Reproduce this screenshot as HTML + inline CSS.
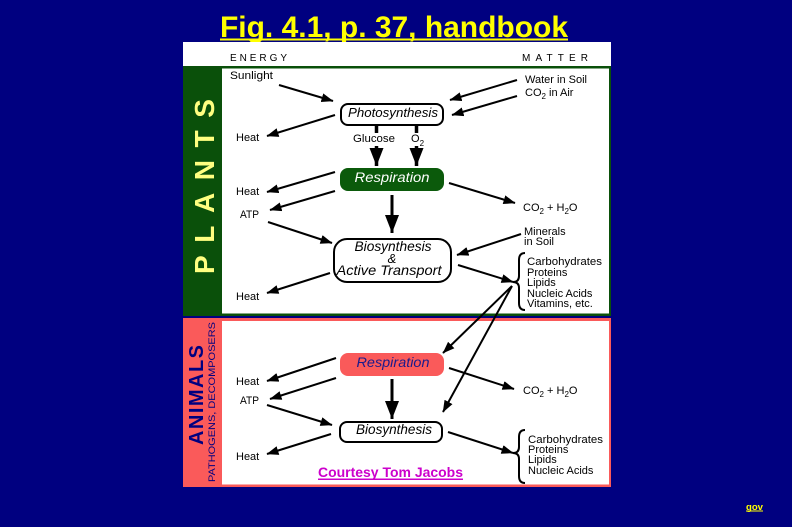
<!DOCTYPE html>
<html><head><meta charset="utf-8">
<style>
html,body{margin:0;padding:0;background:#000080;}
svg{display:block;}
text{font-family:"Liberation Sans",Arial,sans-serif;}
</style></head>
<body>
<svg width="792" height="527" viewBox="0 0 792 527" xmlns="http://www.w3.org/2000/svg">
<defs>
<marker id="ah" markerUnits="userSpaceOnUse" markerWidth="14" markerHeight="12" refX="11.5" refY="4.5" orient="auto">
<path d="M0,0 L12,4.5 L0,9 Z" fill="#000"/>
</marker>
<marker id="big" markerUnits="userSpaceOnUse" markerWidth="20" markerHeight="16" refX="18" refY="7" orient="auto">
<path d="M0,0 L18,7 L0,14 Z" fill="#000"/>
</marker>
</defs>
<rect width="792" height="527" fill="#000080"/>

<!-- Title -->
<text x="394" y="37" text-anchor="middle" font-size="30" font-weight="bold" fill="#ffff00" textLength="348" lengthAdjust="spacingAndGlyphs">Fig. 4.1, p. 37, handbook</text>
<rect x="220" y="38.5" width="348" height="2" fill="#ffff00"/>

<!-- header -->
<rect x="183" y="42" width="428" height="25" fill="#fff"/>
<text x="230" y="61" font-size="10" textLength="57" lengthAdjust="spacing">ENERGY</text>
<text x="522" y="61" font-size="10" textLength="66" lengthAdjust="spacing">MATTER</text>

<!-- Plants panel -->
<rect x="183" y="66" width="428" height="250" fill="#0a500a"/>
<rect x="222" y="68.5" width="387" height="245" fill="#fff"/>
<text transform="translate(214,274) rotate(-90)" x="0" y="0" font-size="28" font-weight="bold" fill="#ffff80" textLength="175" lengthAdjust="spacing">PLANTS</text>

<!-- Animals panel -->
<rect x="183" y="318" width="428" height="169" fill="#fa5a5a"/>
<rect x="222" y="321" width="387" height="163.5" fill="#fff"/>
<text transform="translate(203,445) rotate(-90)" x="0" y="0" font-size="20" font-weight="bold" fill="#000080" textLength="100" lengthAdjust="spacing">ANIMALS</text>
<text transform="translate(215,482) rotate(-90)" x="0" y="0" font-size="9.5" fill="#000080" textLength="160" lengthAdjust="spacingAndGlyphs">PATHOGENS, DECOMPOSERS</text>

<!-- Plants labels -->
<g font-size="11" fill="#000">
<text x="230" y="79" textLength="43" lengthAdjust="spacingAndGlyphs">Sunlight</text>
<text x="525" y="83" textLength="62" lengthAdjust="spacingAndGlyphs">Water in Soil</text>
<text x="525" y="96">CO<tspan font-size="8" dy="3">2</tspan><tspan dy="-3"> in Air</tspan></text>
<text x="236" y="141">Heat</text>
<text x="353" y="142" textLength="42" lengthAdjust="spacingAndGlyphs">Glucose</text>
<text x="411" y="142">O<tspan font-size="8" dy="4">2</tspan></text>
<text x="236" y="195">Heat</text>
<text x="240" y="218" textLength="19" lengthAdjust="spacingAndGlyphs">ATP</text>
<text x="523" y="211">CO<tspan font-size="8" dy="3">2</tspan><tspan dy="-3"> + H</tspan><tspan font-size="8" dy="3">2</tspan><tspan dy="-3">O</tspan></text>
<text x="524" y="235">Minerals</text>
<text x="524" y="245">in Soil</text>
<text x="236" y="300">Heat</text>
<text x="527" y="265" textLength="75" lengthAdjust="spacingAndGlyphs">Carbohydrates</text>
<text x="527" y="276">Proteins</text>
<text x="527" y="286">Lipids</text>
<text x="527" y="297">Nucleic Acids</text>
<text x="527" y="307">Vitamins, etc.</text>
</g>

<!-- Plants boxes -->
<rect x="341" y="104" width="102" height="21" rx="7" fill="#fff" stroke="#000" stroke-width="2"/>
<text x="393" y="117" text-anchor="middle" font-size="13" font-style="italic" textLength="90" lengthAdjust="spacingAndGlyphs">Photosynthesis</text>

<rect x="340" y="168" width="104" height="23" rx="8" fill="#0b5a0b"/>
<text x="392" y="182" text-anchor="middle" font-size="14" font-style="italic" fill="#fff" textLength="75" lengthAdjust="spacingAndGlyphs">Respiration</text>

<rect x="334" y="239" width="117" height="43" rx="13" fill="#fff" stroke="#000" stroke-width="2"/>
<text x="393" y="251" text-anchor="middle" font-size="13.5" font-style="italic" textLength="77" lengthAdjust="spacingAndGlyphs">Biosynthesis</text>
<text x="392" y="263" text-anchor="middle" font-size="13" font-style="italic">&amp;</text>
<text x="389" y="275" text-anchor="middle" font-size="14" font-style="italic" textLength="105" lengthAdjust="spacingAndGlyphs">Active Transport</text>

<!-- Plants arrows -->
<g stroke="#000" stroke-width="2" fill="none">
<line x1="279" y1="85" x2="333" y2="101" marker-end="url(#ah)"/>
<line x1="517" y1="80" x2="450" y2="100" marker-end="url(#ah)"/>
<line x1="517" y1="96" x2="452" y2="115" marker-end="url(#ah)"/>
<line x1="335" y1="115" x2="267" y2="136" marker-end="url(#ah)"/>
<line x1="335" y1="172" x2="267" y2="192" marker-end="url(#ah)"/>
<line x1="335" y1="191" x2="270" y2="210" marker-end="url(#ah)"/>
<line x1="449" y1="183" x2="515" y2="203" marker-end="url(#ah)"/>
<line x1="268" y1="222" x2="332" y2="243" marker-end="url(#ah)"/>
<line x1="521" y1="234" x2="457" y2="255" marker-end="url(#ah)"/>
<line x1="458" y1="265" x2="513" y2="282" marker-end="url(#ah)"/>
<line x1="330" y1="273" x2="267" y2="293" marker-end="url(#ah)"/>
<line x1="512" y1="286" x2="443" y2="353" marker-end="url(#ah)"/>
<line x1="512" y1="286" x2="443" y2="412" marker-end="url(#ah)"/>
</g>
<g stroke="#000" stroke-width="3.5" fill="none">
<line x1="376.5" y1="125" x2="376.5" y2="133"/>
<line x1="416.5" y1="125" x2="416.5" y2="133"/>
<line x1="376.5" y1="146" x2="376.5" y2="166" marker-end="url(#big)"/>
<line x1="416.5" y1="146" x2="416.5" y2="166" marker-end="url(#big)"/>
<line x1="392" y1="195" x2="392" y2="233" stroke-width="3" marker-end="url(#big)"/>
<line x1="392" y1="379" x2="392" y2="419" stroke-width="3" marker-end="url(#big)"/>
</g>

<!-- braces -->
<path d="M525,253 Q519,253 519,260 L519,276 Q519,282 513,282 Q519,282 519,288 L519,303 Q519,310 525,310" fill="none" stroke="#000" stroke-width="2"/>
<path d="M525,430 Q519,430 519,437 L519,447 Q519,453 513,453 Q519,453 519,459 L519,476 Q519,483 525,483" fill="none" stroke="#000" stroke-width="2"/>

<!-- Animals boxes -->
<rect x="340" y="353" width="104" height="23" rx="8" fill="#fa5a5a"/>
<text x="393" y="367" text-anchor="middle" font-size="14" font-style="italic" fill="#1a1a8c" textLength="73" lengthAdjust="spacingAndGlyphs">Respiration</text>

<rect x="340" y="422" width="102" height="20" rx="7" fill="#fff" stroke="#000" stroke-width="2"/>
<text x="394" y="434" text-anchor="middle" font-size="13.5" font-style="italic" textLength="76" lengthAdjust="spacingAndGlyphs">Biosynthesis</text>

<!-- Animals labels -->
<g font-size="11" fill="#000">
<text x="236" y="385">Heat</text>
<text x="240" y="404" textLength="19" lengthAdjust="spacingAndGlyphs">ATP</text>
<text x="523" y="394">CO<tspan font-size="8" dy="3">2</tspan><tspan dy="-3"> + H</tspan><tspan font-size="8" dy="3">2</tspan><tspan dy="-3">O</tspan></text>
<text x="236" y="460">Heat</text>
<text x="528" y="443" textLength="75" lengthAdjust="spacingAndGlyphs">Carbohydrates</text>
<text x="528" y="453">Proteins</text>
<text x="528" y="463">Lipids</text>
<text x="528" y="474">Nucleic Acids</text>
</g>

<!-- Animals arrows -->
<g stroke="#000" stroke-width="2" fill="none">
<line x1="336" y1="358" x2="267" y2="381" marker-end="url(#ah)"/>
<line x1="336" y1="378" x2="270" y2="399" marker-end="url(#ah)"/>
<line x1="449" y1="368" x2="514" y2="389" marker-end="url(#ah)"/>
<line x1="267" y1="405" x2="332" y2="425" marker-end="url(#ah)"/>
<line x1="331" y1="434" x2="267" y2="454" marker-end="url(#ah)"/>
<line x1="448" y1="432" x2="513" y2="453" marker-end="url(#ah)"/>
</g>

<!-- Courtesy -->
<text x="318" y="477" font-size="13.5" font-weight="bold" fill="#cc00cc" textLength="145" lengthAdjust="spacingAndGlyphs">Courtesy Tom Jacobs</text>
<rect x="318" y="478.5" width="145" height="1.5" fill="#cc00cc"/>

<!-- gov -->
<text x="746" y="510" font-size="9" font-weight="bold" fill="#ffff00" textLength="17" lengthAdjust="spacingAndGlyphs">gov</text>
<rect x="746" y="510.5" width="17" height="1" fill="#ffff00"/>
</svg>
</body></html>
